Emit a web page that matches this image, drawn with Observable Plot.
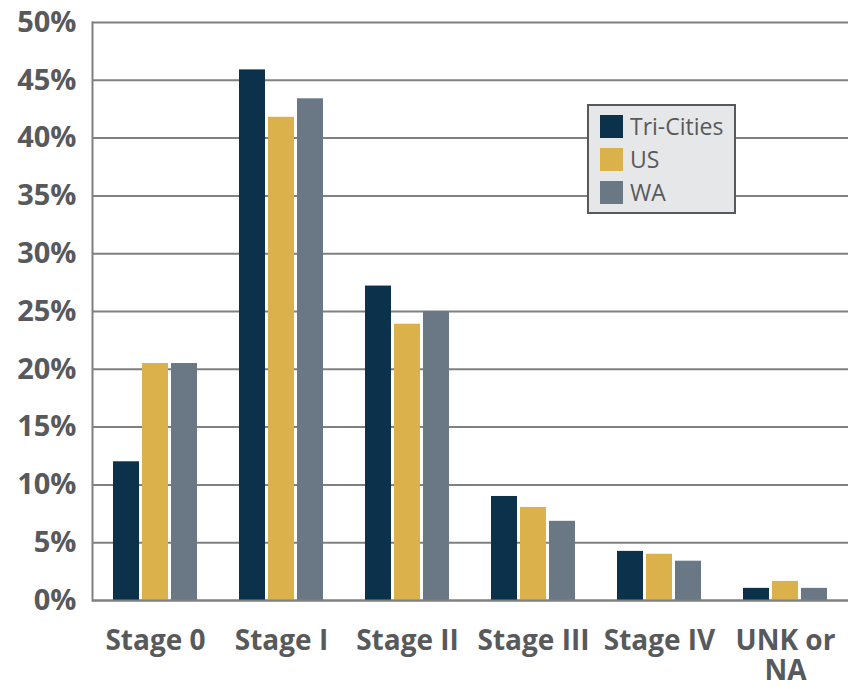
<!DOCTYPE html>
<html>
<head>
<meta charset="utf-8">
<script src="https://cdn.jsdelivr.net/npm/d3@7"></script>
<script src="https://cdn.jsdelivr.net/npm/@observablehq/plot@0.6"></script>
<style>
  html, body { margin: 0; padding: 0; background: #fff; }
  #wrap { position: relative; width: 848px; height: 687px; font-family: "Open Sans", sans-serif; }
  #legend { position: absolute; left: 587px; top: 104px; width: 149px; height: 110px; box-sizing: border-box;
            background: #e6e7e8; border: 2.5px solid #58595b; padding: 4px 0 0 11px; }
  .row { display: flex; align-items: center; height: 33px; }
  .sw { width: 23px; height: 23px; margin-right: 7px; }
  .lab { font-size: 23px; color: #58595b; line-height: 1; }
</style>
</head>
<body>
<div id="wrap"></div>
<script>
const stages = ["Stage 0", "Stage I", "Stage II", "Stage III", "Stage IV", "UNK or NA"];
const stageLabels = ["Stage 0", "Stage I", "Stage II", "Stage III", "Stage IV", "UNK or\nNA"];
const series = ["Tri-Cities", "US", "WA"];
const colors = ["#0c314b", "#dbb14b", "#6a7885"];
const triCities = [12.0, 45.9, 27.2, 9.0, 4.25, 1.05];
const us = [20.5, 41.8, 23.9, 8.05, 4.0, 1.65];
const wa = [20.5, 43.4, 25.0, 6.85, 3.4, 1.05];
const yTicks = [0, 5, 10, 15, 20, 25, 30, 35, 40, 45, 50];

const valuesBySeries = [triCities, us, wa];
const data = [];
stages.forEach((s, i) => series.forEach((k, j) => data.push({stage: s, series: k, value: valuesBySeries[j][i]})));

const chart = Plot.plot({
  width: 848,
  height: 687,
  marginLeft: 92,
  marginRight: 0,
  marginTop: 22,
  marginBottom: 87,
  style: {fontFamily: "'Open Sans', sans-serif", background: "#fff", overflow: "visible"},
  fx: {domain: stages, padding: 0, axis: null, label: null},
  x: {domain: series, paddingInner: 0.1, paddingOuter: 0.7, axis: null, label: null},
  y: {domain: [0, 50], axis: null, label: null},
  color: {domain: series, range: colors},
  marks: [
    Plot.gridY(yTicks, {stroke: "#808080", strokeOpacity: 1, strokeWidth: 2}),
    Plot.barY(data, {fx: "stage", x: "series", y: "value", fill: "series"}),
    Plot.ruleY([0], {stroke: "#808080", strokeWidth: 2}),
    Plot.frame({anchor: "left", facetAnchor: "left", stroke: "#808080", strokeWidth: 2}),
    Plot.axisY(yTicks, {anchor: "left", tickSize: 0, tickPadding: 16, tickFormat: d => d + "%", label: null,
      fontSize: 29, fontWeight: "bold", fill: "#58595b"}),
    Plot.axisFx({anchor: "bottom", tickSize: 0, tickPadding: 28, label: null,
      tickFormat: d => stageLabels[stages.indexOf(d)],
      fontSize: 28, fontWeight: "bold", fill: "#58595b", lineHeight: 1.08})
  ]
});

const wrap = document.getElementById("wrap");
wrap.appendChild(chart);
const legend = document.createElement("div");
legend.id = "legend";
series.forEach((s, i) => {
  const row = document.createElement("div");
  row.className = "row";
  const sw = document.createElement("span");
  sw.className = "sw";
  sw.style.background = colors[i];
  const lab = document.createElement("span");
  lab.className = "lab";
  lab.textContent = s;
  row.appendChild(sw);
  row.appendChild(lab);
  legend.appendChild(row);
});
wrap.appendChild(legend);
</script>
</body>
</html>
